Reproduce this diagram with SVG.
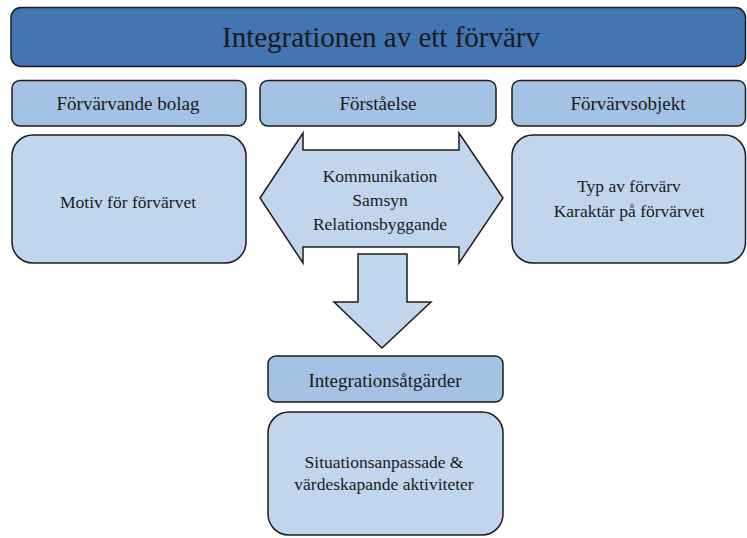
<svg xmlns="http://www.w3.org/2000/svg" width="747" height="538" viewBox="0 0 747 538">
<style>
.box{stroke:#1c1c1c;stroke-width:1.5}
.title{fill:#4275b1}
.head{fill:#a4c2e3}
.body{fill:#c1d6ed}
text{font-family:"Liberation Serif","Times New Roman",serif;fill:#1a1a1a;text-anchor:middle;dominant-baseline:central}
.t1{font-size:29px}
.t2{font-size:19px}
.t3{font-size:17.5px}
</style>
<rect width="747" height="538" fill="#ffffff"/>
<g id="title">
<rect class="box title" x="11" y="7.5" width="734.5" height="59" rx="10"/>
<text class="t1" x="381" y="37">Integrationen av ett förvärv</text>
</g>
<g id="forvarvande-bolag">
<rect class="box head" x="12" y="80.5" width="234" height="45.5" rx="8"/>
<text class="t2" x="128" y="103">Förvärvande bolag</text>
</g>
<g id="forstaelse">
<rect class="box head" x="260" y="80.5" width="236" height="45.5" rx="8"/>
<text class="t2" x="378" y="103">Förståelse</text>
</g>
<g id="forvarvsobjekt">
<rect class="box head" x="512" y="80.5" width="233.5" height="45.5" rx="8"/>
<text class="t2" x="628" y="103">Förvärvsobjekt</text>
</g>
<g id="motiv">
<rect class="box body" x="12" y="135" width="234" height="128" rx="21"/>
<text class="t3" x="128" y="202">Motiv för förvärvet</text>
</g>
<g id="typ">
<rect class="box body" x="512" y="135" width="233.5" height="128" rx="21"/>
<text class="t3" x="629" y="186">Typ av förvärv</text>
<text class="t3" x="629" y="211">Karaktär på förvärvet</text>
</g>
<g id="kommunikation">
<polygon class="box body" points="260,198 303,133 303,150 459,150 459,133 503,198 459,263 459,247 303,247 303,263"/>
<text class="t3" x="380" y="176">Kommunikation</text>
<text class="t3" x="380" y="200">Samsyn</text>
<text class="t3" x="380" y="224">Relationsbyggande</text>
</g>
<g id="connectors">
<polygon class="box body" points="358,254 407,254 407,302 431,302 382,348 334,302 358,302"/>
</g>
<g id="integrationsatgarder">
<rect class="box head" x="268" y="356" width="235" height="46" rx="8"/>
<text class="t2" x="385" y="380">Integrationsåtgärder</text>
</g>
<g id="aktiviteter">
<rect class="box body" x="268" y="412" width="235" height="123" rx="21"/>
<text class="t3" x="384" y="462">Situationsanpassade &amp;</text>
<text class="t3" x="384" y="484">värdeskapande aktiviteter</text>
</g>
</svg>
